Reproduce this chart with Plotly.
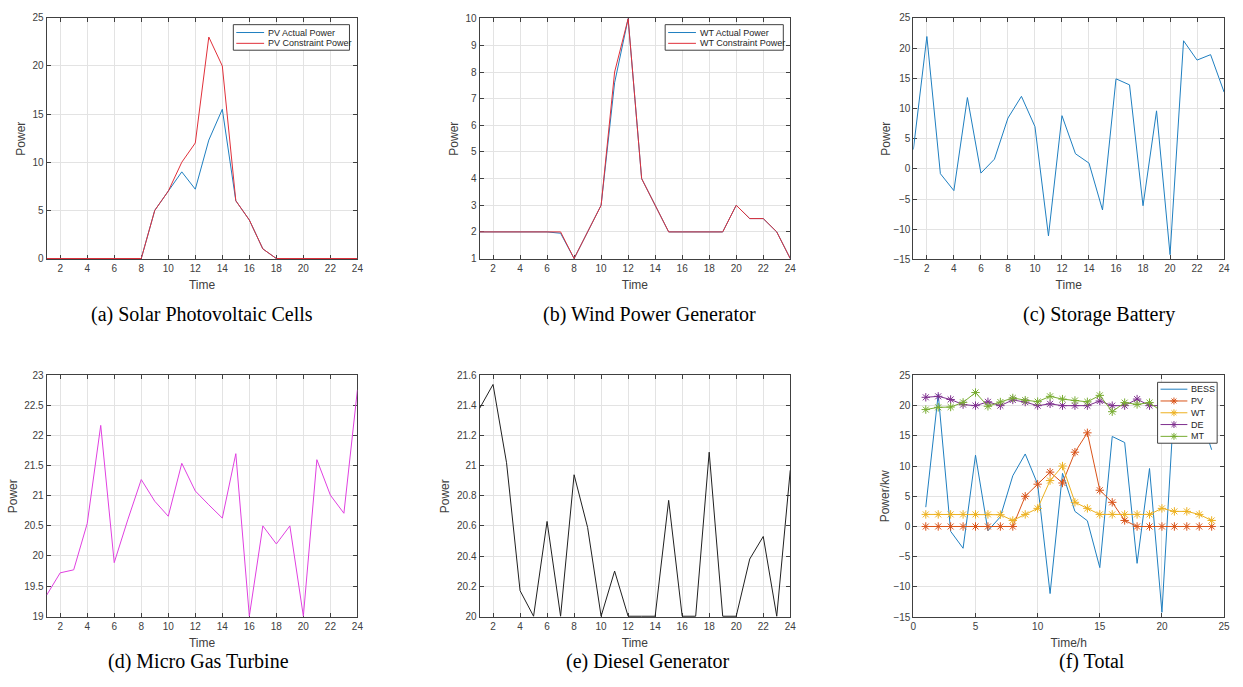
import plotly.graph_objects as go

hours = list(range(1, 25))

pv_actual = [0, 0, 0, 0, 0, 0, 0, 0, 5, 7, 9, 7.2, 12.3, 15.5, 6, 4, 1, 0, 0, 0, 0, 0, 0, 0]
pv_constraint = [0, 0, 0, 0, 0, 0, 0, 0, 5, 7, 10, 12, 23, 20, 6, 4, 1, 0, 0, 0, 0, 0, 0, 0]

wt_actual = [2, 2, 2, 2, 2, 2, 1.95, 1, 2, 3, 7.6, 10, 4, 3, 2, 2, 2, 2, 2, 3, 2.5, 2.5, 2, 1]
wt_constraint = [2, 2, 2, 2, 2, 2, 2, 1, 2, 3, 8, 10, 4, 3, 2, 2, 2, 2, 2, 3, 2.5, 2.5, 2, 1]

bess = [3.2, 21.9, -0.8, -3.6, 11.8, -0.7, 1.6, 8.4, 12, 7.0, -11.1, 8.8,
        2.5, 0.95, -6.8, 14.9, 13.9, -6.1, 9.6, -14.2, 21.2, 18.0, 18.9, 12.7]

mt = [19.35, 19.72, 19.77, 20.54, 22.17, 19.89, 20.6, 21.27, 20.91, 20.66, 21.54, 21.08,
      20.85, 20.63, 21.70, 19.0, 20.5, 20.2, 20.5, 19.0, 21.6, 21.01, 20.71, 22.76]

de = [21.38, 21.54, 21.02, 20.17, 20.0, 20.63, 20.0, 20.94, 20.59, 20.0, 20.30, 20.0,
      20.0, 20.0, 20.77, 20.0, 20.0, 21.09, 20.0, 20.0, 20.38, 20.53, 20.0, 20.97]

captions = ["(a) Solar Photovoltaic Cells", "(b) Wind Power Generator", "(c) Storage Battery",
            "(d) Micro Gas Turbine", "(e) Diesel Generator", "(f) Total"]

legend_a = ["PV Actual Power", "PV Constraint Power"]
legend_b = ["WT Actual Power", "WT Constraint Power"]
legend_f = ["BESS", "PV", "WT", "DE", "MT"]

W, H = 1243, 687

C_BLUE = "#1f7fc0"
C_RED = "#e0303a"
C_ORANGE = "#D95319"
C_YELLOW = "#EDB120"
C_PURPLE = "#7E2F8E"
C_GREEN = "#77AC30"
C_MAG = "#E040E0"
C_DARK = "#404040"

fig = go.Figure()

def px(x):
    return x / W

def py(y):
    return 1 - y / H

def xd(l, r):
    return [px(l), px(r)]

def yd(t, b):
    return [py(b), py(t)]

axis_font = dict(family="Liberation Sans, Arial", size=10, color=C_DARK)
title_font = dict(family="Liberation Sans, Arial", size=12, color=C_DARK)

def ax(**kw):
    d = dict(showline=True, linecolor=C_DARK, linewidth=1, mirror="allticks",
             ticks="inside", ticklen=4, tickcolor=C_DARK, showgrid=True,
             gridcolor="#e3e3e3", gridwidth=1, zeroline=False, tickfont=axis_font,
             title_font=title_font, layer="below traces")
    d.update(kw)
    return d

cols = [(44, 357), (480, 793), (917, 1230)]
rows = [(12, 258), (376, 622)]

# (a)
fig.add_trace(go.Scatter(x=hours, y=pv_actual, mode="lines", name=legend_a[0],
                         line=dict(color=C_BLUE, width=1), xaxis="x", yaxis="y"))
fig.add_trace(go.Scatter(x=hours, y=pv_constraint, mode="lines", name=legend_a[1],
                         line=dict(color=C_RED, width=1), xaxis="x", yaxis="y"))
# (b)
fig.add_trace(go.Scatter(x=hours, y=wt_actual, mode="lines", name=legend_b[0],
                         line=dict(color=C_BLUE, width=1), xaxis="x2", yaxis="y2"))
fig.add_trace(go.Scatter(x=hours, y=wt_constraint, mode="lines", name=legend_b[1],
                         line=dict(color=C_RED, width=1), xaxis="x2", yaxis="y2"))
# (c)
fig.add_trace(go.Scatter(x=hours, y=bess, mode="lines", name="BESS",
                         line=dict(color=C_BLUE, width=1), xaxis="x3", yaxis="y3"))
# (d)
fig.add_trace(go.Scatter(x=hours, y=mt, mode="lines", name="MT",
                         line=dict(color=C_MAG, width=1), xaxis="x4", yaxis="y4"))
# (e)
fig.add_trace(go.Scatter(x=hours, y=de, mode="lines", name="DE",
                         line=dict(color="#202020", width=1), xaxis="x5", yaxis="y5"))
# (f)
f_series = [(bess, C_BLUE, False), (pv_actual, C_ORANGE, True), (wt_actual, C_YELLOW, True),
            (de, C_PURPLE, True), (mt, C_GREEN, True)]
for (yv, c, mk), nm in zip(f_series, legend_f):
    fig.add_trace(go.Scatter(x=hours, y=yv, mode="lines+markers" if mk else "lines", name=nm,
                             line=dict(color=c, width=1),
                             marker=dict(symbol="asterisk-open", size=7, color=c,
                                         line=dict(color=c, width=1)),
                             xaxis="x6", yaxis="y6"))

hour_ticks = list(range(2, 25, 2))
xt = dict(text="Time", standoff=7)

fig.update_layout(
    width=W, height=H, margin=dict(l=0, r=0, t=0, b=0),
    paper_bgcolor="white", plot_bgcolor="white", showlegend=False,
    xaxis=ax(domain=xd(*cols[0]), range=[1, 24], tickvals=hour_ticks, anchor="y", title=xt),
    yaxis=ax(domain=yd(*rows[0]), range=[-0.1, 25], tickvals=[0, 5, 10, 15, 20, 25], anchor="x",
             title=dict(text="Power", standoff=4)),
    xaxis2=ax(domain=xd(*cols[1]), range=[1, 24], tickvals=hour_ticks, anchor="y2", title=xt),
    yaxis2=ax(domain=yd(*rows[0]), range=[0.965, 10.035], tickvals=list(range(1, 11)), anchor="x2",
              title=dict(text="Power", standoff=4)),
    xaxis3=ax(domain=xd(*cols[2]), range=[1, 24], tickvals=hour_ticks, anchor="y3", title=xt),
    yaxis3=ax(domain=yd(*rows[0]), range=[-15, 25], dtick=5, anchor="x3",
              title=dict(text="Power", standoff=0)),
    xaxis4=ax(domain=xd(*cols[0]), range=[1, 24], tickvals=hour_ticks, anchor="y4", title=xt),
    yaxis4=ax(domain=yd(*rows[1]), range=[18.984, 23], tickvals=[19, 19.5, 20, 20.5, 21, 21.5, 22, 22.5, 23],
              ticktext=["19", "19.5", "20", "20.5", "21", "21.5", "22", "22.5", "23"], anchor="x4",
              title=dict(text="Power", standoff=4)),
    xaxis5=ax(domain=xd(*cols[1]), range=[1, 24], tickvals=hour_ticks, anchor="y5", title=xt),
    yaxis5=ax(domain=yd(*rows[1]), range=[19.994, 21.6], tickvals=[20, 20.2, 20.4, 20.6, 20.8, 21, 21.2, 21.4, 21.6],
              ticktext=["20", "20.2", "20.4", "20.6", "20.8", "21", "21.2", "21.4", "21.6"], anchor="x5",
              title=dict(text="Power", standoff=4)),
    xaxis6=ax(domain=xd(*cols[2]), range=[0, 25], dtick=5, anchor="y6",
              title=dict(text="Time/h", standoff=7)),
    yaxis6=ax(domain=yd(*rows[1]), range=[-15, 25], dtick=5, anchor="x6",
              title=dict(text="Power/kw", standoff=1)),
)

# ---- MATLAB-style compact legends (layout decorations) ----
leg_font = dict(family="Liberation Sans, Arial", size=9, color="#262626")

def add_legend(box, names, colors, markers, line_x, text_x, ys):
    x0, x1, y0, y1 = box
    fig.add_shape(type="rect", xref="paper", yref="paper", x0=px(x0), x1=px(x1),
                  y0=py(y1), y1=py(y0), fillcolor="white", line=dict(color=C_DARK, width=1),
                  layer="above")
    for nm, c, mk, yy in zip(names, colors, markers, ys):
        fig.add_shape(type="line", xref="paper", yref="paper", x0=px(line_x[0]), x1=px(line_x[1]),
                      y0=py(yy), y1=py(yy), line=dict(color=c, width=1), layer="above")
        if mk:
            cx = (line_x[0] + line_x[1]) / 2
            r = 3.5
            d = r * 0.7071
            for dx, dy in [(r, 0), (0, r), (d, d), (d, -d)]:
                fig.add_shape(type="line", xref="paper", yref="paper",
                              x0=px(cx - dx), x1=px(cx + dx), y0=py(yy - dy), y1=py(yy + dy),
                              line=dict(color=c, width=1), layer="above")
        fig.add_annotation(text=nm, x=px(text_x), y=py(yy), xref="paper", yref="paper",
                           xanchor="left", yanchor="middle", showarrow=False, font=leg_font)

add_legend((232, 349, 19, 45), legend_a, [C_BLUE, C_RED], [False, False],
           (235, 263), 265, [27, 38])
add_legend((667, 786, 19, 45), legend_b, [C_BLUE, C_RED], [False, False],
           (670, 698), 700, [27, 38])
add_legend((1163, 1223, 383, 445), legend_f, [C_BLUE, C_ORANGE, C_YELLOW, C_PURPLE, C_GREEN],
           [False, True, True, True, True], (1166, 1193), 1195, [390, 402, 414, 426, 438])

cap_pos = [(200, 314), (651, 314), (1104, 314), (197, 667), (650, 667), (1097, 667)]
for txt, (cx, cy) in zip(captions, cap_pos):
    fig.add_annotation(text=txt, x=px(cx), y=py(cy), xref="paper", yref="paper",
                       xanchor="center", yanchor="middle", showarrow=False,
                       font=dict(family="Liberation Serif, Times New Roman", size=20, color="black"))

fig.write_html("out.html", config={"displayModeBar": False},
               post_script="document.body.style.margin='0';document.body.style.overflow='hidden';")
